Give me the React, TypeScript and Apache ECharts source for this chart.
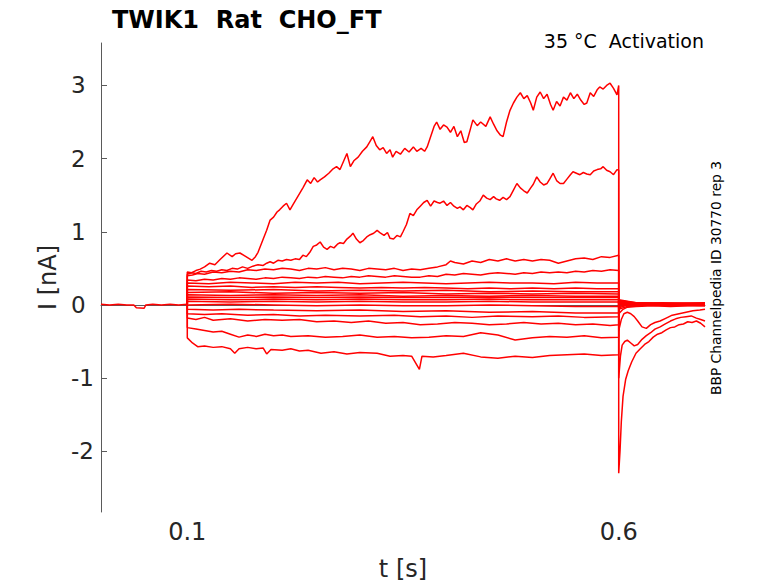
import { useRef, useEffect } from 'react'
import * as echarts from 'echarts'

type Pt = [number, number]

// time in s, current in nA
const xTicks = [0.1, 0.6]
const yTicks = [-2, -1, 0, 1, 2, 3]

const preStep: Pt[] = [
  [0, 0.01], [0.01, 0.0], [0.02, 0.01], [0.03, 0.0], [0.038, 0.0], [0.041, -0.04], [0.05, -0.045],
  [0.052, 0.0], [0.06, 0.01], [0.07, 0.0], [0.08, 0.01], [0.09, 0.0], [0.1, 0.01],
]

const trace1: Pt[] = [
  [0.1, 0.01], [0.1, 0.45], [0.105, 0.44], [0.11, 0.47], [0.115, 0.49], [0.12, 0.52], [0.126, 0.57], [0.132, 0.55],
  [0.138, 0.62], [0.146, 0.71], [0.152, 0.66], [0.156, 0.7], [0.161, 0.71], [0.168, 0.66], [0.175, 0.61], [0.179, 0.66],
  [0.182, 0.72], [0.188, 0.9], [0.192, 1.02], [0.196, 1.16], [0.2, 1.2], [0.204, 1.27], [0.207, 1.3], [0.211, 1.35],
  [0.215, 1.39], [0.219, 1.3], [0.223, 1.38], [0.228, 1.48], [0.234, 1.6], [0.239, 1.71], [0.243, 1.66], [0.247, 1.74],
  [0.251, 1.68], [0.254, 1.71], [0.259, 1.75], [0.264, 1.8], [0.269, 1.86], [0.273, 1.89], [0.277, 1.85], [0.281, 1.96],
  [0.285, 2.07], [0.289, 1.89], [0.293, 1.97], [0.298, 2.02], [0.303, 2.1], [0.308, 2.16], [0.312, 2.24], [0.315, 2.3],
  [0.319, 2.18], [0.323, 2.12], [0.327, 2.15], [0.331, 2.07], [0.335, 2.12], [0.338, 2.02], [0.342, 2.1], [0.347, 2.06],
  [0.352, 2.14], [0.357, 2.09], [0.362, 2.16], [0.366, 2.1], [0.371, 2.14], [0.375, 2.1], [0.378, 2.16], [0.382, 2.3],
  [0.386, 2.44], [0.389, 2.5], [0.393, 2.4], [0.397, 2.46], [0.401, 2.43], [0.405, 2.36], [0.409, 2.44], [0.413, 2.3],
  [0.417, 2.38], [0.421, 2.22], [0.424, 2.23], [0.428, 2.4], [0.431, 2.53], [0.436, 2.45], [0.44, 2.5], [0.446, 2.44],
  [0.451, 2.57], [0.455, 2.47], [0.459, 2.38], [0.463, 2.32], [0.466, 2.3], [0.47, 2.5], [0.474, 2.66], [0.478, 2.76],
  [0.482, 2.84], [0.486, 2.9], [0.49, 2.82], [0.494, 2.86], [0.498, 2.76], [0.501, 2.66], [0.505, 2.84], [0.509, 2.91],
  [0.513, 2.82], [0.517, 2.88], [0.521, 2.74], [0.524, 2.66], [0.528, 2.78], [0.532, 2.72], [0.536, 2.84], [0.54, 2.8],
  [0.544, 2.9], [0.548, 2.82], [0.552, 2.88], [0.556, 2.8], [0.56, 2.74], [0.563, 2.76], [0.567, 2.9], [0.571, 2.85],
  [0.575, 2.94], [0.578, 2.98], [0.582, 2.95], [0.586, 3.0], [0.59, 3.03], [0.594, 2.96], [0.598, 2.87], [0.6, 3.0],
  [0.6, -2.3], [0.6015, -2.0], [0.603, -1.6], [0.605, -1.25], [0.608, -1.02], [0.611, -0.9], [0.615, -0.78], [0.62, -0.66],
  [0.625, -0.6], [0.63, -0.54], [0.635, -0.5], [0.64, -0.44], [0.645, -0.4], [0.65, -0.38], [0.655, -0.34], [0.66, -0.31],
  [0.665, -0.3], [0.67, -0.27], [0.675, -0.26], [0.68, -0.23], [0.685, -0.24], [0.69, -0.22], [0.695, -0.25], [0.7, -0.3],
]

const trace2: Pt[] = [
  [0.1, 0.01], [0.1, 0.42], [0.105, 0.44], [0.11, 0.43], [0.116, 0.46], [0.122, 0.45], [0.128, 0.47], [0.134, 0.46],
  [0.14, 0.48], [0.146, 0.47], [0.152, 0.5], [0.158, 0.49], [0.164, 0.52], [0.17, 0.5], [0.176, 0.53], [0.182, 0.55],
  [0.188, 0.54], [0.192, 0.57], [0.196, 0.59], [0.2, 0.57], [0.205, 0.61], [0.21, 0.6], [0.215, 0.62], [0.22, 0.61],
  [0.225, 0.63], [0.23, 0.62], [0.234, 0.68], [0.238, 0.66], [0.242, 0.72], [0.246, 0.8], [0.25, 0.82], [0.254, 0.86],
  [0.258, 0.79], [0.262, 0.76], [0.266, 0.8], [0.27, 0.78], [0.274, 0.83], [0.277, 0.85], [0.281, 0.84], [0.285, 0.9],
  [0.289, 0.94], [0.292, 0.98], [0.296, 0.9], [0.3, 0.85], [0.304, 0.88], [0.308, 0.93], [0.312, 0.96], [0.316, 0.98],
  [0.32, 1.02], [0.324, 0.98], [0.328, 0.95], [0.332, 0.99], [0.335, 0.91], [0.339, 0.9], [0.343, 0.95], [0.347, 0.93],
  [0.35, 1.0], [0.354, 1.1], [0.358, 1.25], [0.362, 1.22], [0.366, 1.3], [0.37, 1.35], [0.374, 1.4], [0.378, 1.43],
  [0.382, 1.35], [0.386, 1.42], [0.39, 1.4], [0.393, 1.39], [0.397, 1.42], [0.401, 1.36], [0.405, 1.4], [0.409, 1.35],
  [0.413, 1.32], [0.416, 1.34], [0.42, 1.3], [0.424, 1.36], [0.428, 1.33], [0.431, 1.3], [0.435, 1.38], [0.439, 1.42],
  [0.443, 1.5], [0.447, 1.46], [0.451, 1.44], [0.455, 1.48], [0.458, 1.45], [0.462, 1.43], [0.466, 1.47], [0.47, 1.44],
  [0.474, 1.48], [0.478, 1.57], [0.482, 1.66], [0.486, 1.6], [0.49, 1.56], [0.494, 1.53], [0.498, 1.6], [0.501, 1.65],
  [0.505, 1.75], [0.509, 1.68], [0.513, 1.64], [0.517, 1.66], [0.52, 1.72], [0.524, 1.8], [0.528, 1.7], [0.532, 1.66],
  [0.536, 1.66], [0.54, 1.72], [0.544, 1.78], [0.547, 1.82], [0.551, 1.8], [0.555, 1.78], [0.559, 1.81], [0.563, 1.79],
  [0.567, 1.78], [0.571, 1.83], [0.575, 1.85], [0.579, 1.86], [0.582, 1.89], [0.586, 1.84], [0.59, 1.82], [0.594, 1.78],
  [0.598, 1.85], [0.6, 1.84],
  [0.6, -1.0], [0.602, -0.7], [0.604, -0.55], [0.607, -0.5], [0.61, -0.48], [0.614, -0.52], [0.618, -0.56], [0.622, -0.54],
  [0.627, -0.47], [0.632, -0.42], [0.637, -0.38], [0.642, -0.33], [0.648, -0.3], [0.654, -0.26], [0.66, -0.22], [0.666, -0.19],
  [0.672, -0.17], [0.678, -0.16], [0.684, -0.15], [0.69, -0.18], [0.695, -0.2], [0.7, -0.22],
]

const trace3: Pt[] = [
  [0.1, 0.01], [0.1, 0.4], [0.106, 0.41], [0.112, 0.43], [0.12, 0.42], [0.13, 0.45], [0.14, 0.44], [0.15, 0.46],
  [0.16, 0.45], [0.17, 0.48], [0.18, 0.47], [0.19, 0.49], [0.2, 0.48], [0.21, 0.5], [0.22, 0.49], [0.23, 0.47],
  [0.24, 0.5], [0.25, 0.49], [0.26, 0.51], [0.27, 0.48], [0.28, 0.5], [0.29, 0.49], [0.3, 0.47], [0.31, 0.5],
  [0.32, 0.49], [0.33, 0.48], [0.34, 0.5], [0.35, 0.47], [0.36, 0.49], [0.37, 0.48], [0.38, 0.5], [0.39, 0.52],
  [0.4, 0.55], [0.405, 0.6], [0.41, 0.58], [0.42, 0.56], [0.43, 0.6], [0.44, 0.58], [0.45, 0.62], [0.46, 0.6],
  [0.47, 0.63], [0.48, 0.6], [0.49, 0.62], [0.5, 0.6], [0.51, 0.62], [0.52, 0.61], [0.53, 0.57], [0.54, 0.6],
  [0.55, 0.63], [0.56, 0.64], [0.57, 0.62], [0.58, 0.66], [0.59, 0.65], [0.6, 0.68],
  [0.6, -0.35], [0.603, -0.2], [0.606, -0.12], [0.61, -0.1], [0.614, -0.12], [0.618, -0.16], [0.622, -0.22], [0.627, -0.3],
  [0.632, -0.32], [0.637, -0.27], [0.642, -0.24], [0.648, -0.22], [0.655, -0.18], [0.662, -0.14], [0.67, -0.12],
  [0.678, -0.1], [0.686, -0.08], [0.694, -0.07], [0.7, -0.06],
]

const trace4: Pt[] = [
  [0.1, 0.01], [0.1, 0.34], [0.11, 0.33], [0.12, 0.35], [0.13, 0.34], [0.14, 0.36], [0.15, 0.35], [0.16, 0.37],
  [0.17, 0.36], [0.18, 0.35], [0.19, 0.37], [0.2, 0.36], [0.21, 0.38], [0.22, 0.37], [0.23, 0.36], [0.24, 0.38],
  [0.25, 0.37], [0.26, 0.39], [0.27, 0.38], [0.28, 0.37], [0.29, 0.39], [0.3, 0.38], [0.31, 0.4], [0.32, 0.39],
  [0.33, 0.38], [0.34, 0.4], [0.35, 0.39], [0.36, 0.38], [0.37, 0.38], [0.38, 0.4], [0.39, 0.39], [0.4, 0.42],
  [0.41, 0.41], [0.42, 0.43], [0.43, 0.42], [0.44, 0.41], [0.45, 0.43], [0.46, 0.44], [0.47, 0.43], [0.48, 0.42],
  [0.49, 0.44], [0.5, 0.43], [0.51, 0.45], [0.52, 0.44], [0.53, 0.45], [0.54, 0.44], [0.55, 0.46], [0.56, 0.45],
  [0.57, 0.47], [0.58, 0.46], [0.59, 0.48], [0.6, 0.47],
  [0.6, -0.12], [0.605, -0.06], [0.61, -0.03], [0.62, -0.02], [0.64, -0.01], [0.66, -0.02], [0.68, -0.01], [0.7, -0.01],
]

const trace5: Pt[] = [
  [0.1, 0.01], [0.1, 0.3], [0.125, 0.29], [0.15, 0.31], [0.175, 0.3], [0.2, 0.29], [0.225, 0.31], [0.25, 0.3],
  [0.275, 0.31], [0.3, 0.29], [0.325, 0.3], [0.35, 0.31], [0.375, 0.3], [0.4, 0.29], [0.425, 0.3], [0.45, 0.31],
  [0.475, 0.3], [0.5, 0.3], [0.525, 0.29], [0.55, 0.31], [0.575, 0.3], [0.6, 0.3],
  [0.6, -0.06], [0.61, -0.02], [0.63, 0.0], [0.66, -0.01], [0.7, 0.0],
]

const trace6: Pt[] = [
  [0.1, 0.01], [0.1, 0.26], [0.125, 0.25], [0.15, 0.26], [0.175, 0.24], [0.2, 0.25], [0.225, 0.24], [0.25, 0.25],
  [0.275, 0.24], [0.3, 0.23], [0.325, 0.24], [0.35, 0.23], [0.375, 0.24], [0.4, 0.23], [0.425, 0.22], [0.45, 0.23],
  [0.475, 0.22], [0.5, 0.23], [0.525, 0.22], [0.55, 0.23], [0.575, 0.22], [0.6, 0.22],
  [0.6, -0.04], [0.61, 0.0], [0.64, 0.01], [0.67, 0.0], [0.7, 0.01],
]

const trace7: Pt[] = [
  [0.1, 0.01], [0.1, 0.21], [0.15, 0.2], [0.2, 0.21], [0.25, 0.19], [0.3, 0.2], [0.35, 0.19], [0.4, 0.2],
  [0.45, 0.18], [0.5, 0.19], [0.55, 0.18], [0.6, 0.18],
  [0.6, -0.02], [0.62, 0.02], [0.65, 0.01], [0.7, 0.02],
]

const trace8: Pt[] = [
  [0.1, 0.01], [0.1, 0.17], [0.15, 0.18], [0.2, 0.16], [0.25, 0.17], [0.3, 0.16], [0.35, 0.17], [0.4, 0.15],
  [0.45, 0.16], [0.5, 0.15], [0.55, 0.16], [0.6, 0.15],
  [0.6, 0.0], [0.62, 0.03], [0.65, 0.02], [0.7, 0.03],
]

const trace9: Pt[] = [
  [0.1, 0.01], [0.1, 0.14], [0.15, 0.13], [0.2, 0.14], [0.25, 0.13], [0.3, 0.14], [0.35, 0.12], [0.4, 0.13],
  [0.45, 0.12], [0.5, 0.13], [0.55, 0.12], [0.6, 0.12],
  [0.6, 0.01], [0.62, 0.02], [0.65, 0.03], [0.7, 0.02],
]

const trace10: Pt[] = [
  [0.1, 0.01], [0.1, 0.11], [0.15, 0.1], [0.2, 0.11], [0.25, 0.1], [0.3, 0.11], [0.35, 0.1], [0.4, 0.1],
  [0.45, 0.11], [0.5, 0.1], [0.55, 0.1], [0.6, 0.1],
  [0.6, 0.02], [0.62, 0.01], [0.65, 0.02], [0.7, 0.01],
]

const trace11: Pt[] = [
  [0.1, 0.01], [0.1, 0.08], [0.15, 0.07], [0.2, 0.08], [0.25, 0.07], [0.3, 0.08], [0.35, 0.07], [0.4, 0.07],
  [0.45, 0.08], [0.5, 0.07], [0.55, 0.07], [0.6, 0.07],
  [0.6, 0.03], [0.62, 0.02], [0.65, 0.01], [0.7, 0.02],
]

const trace12: Pt[] = [
  [0.1, 0.01], [0.1, 0.05], [0.15, 0.04], [0.2, 0.05], [0.25, 0.04], [0.3, 0.05], [0.35, 0.04], [0.4, 0.04],
  [0.45, 0.05], [0.5, 0.04], [0.55, 0.04], [0.6, 0.04],
  [0.6, 0.02], [0.62, 0.0], [0.65, 0.01], [0.7, 0.0],
]

const trace13: Pt[] = [
  [0.1, 0.01], [0.1, 0.0], [0.15, 0.01], [0.2, 0.0], [0.25, -0.01], [0.3, 0.0], [0.35, -0.01], [0.4, -0.01],
  [0.45, 0.0], [0.5, -0.01], [0.55, -0.02], [0.6, -0.02],
  [0.6, 0.03], [0.62, 0.01], [0.65, 0.0], [0.7, 0.01],
]

const trace14: Pt[] = [
  [0.1, 0.01], [0.1, -0.06], [0.13, -0.07], [0.16, -0.06], [0.2, -0.07], [0.25, -0.08], [0.3, -0.07], [0.35, -0.09],
  [0.4, -0.08], [0.45, -0.1], [0.5, -0.09], [0.55, -0.11], [0.6, -0.11],
  [0.6, 0.04], [0.62, 0.01], [0.65, 0.0], [0.7, -0.01],
]

const trace15: Pt[] = [
  [0.1, 0.01], [0.1, -0.12], [0.12, -0.13], [0.14, -0.12], [0.17, -0.14], [0.2, -0.13], [0.23, -0.15], [0.26, -0.14],
  [0.3, -0.15], [0.34, -0.14], [0.37, -0.16], [0.4, -0.15], [0.43, -0.17], [0.46, -0.15], [0.5, -0.16], [0.53, -0.15],
  [0.56, -0.17], [0.6, -0.16],
  [0.6, 0.05], [0.62, 0.02], [0.65, 0.0], [0.7, 0.0],
]

const trace16: Pt[] = [
  [0.1, 0.01], [0.1, -0.18], [0.11, -0.2], [0.12, -0.17], [0.13, -0.21], [0.15, -0.19], [0.17, -0.22], [0.19, -0.2],
  [0.21, -0.21], [0.23, -0.2], [0.25, -0.23], [0.27, -0.22], [0.29, -0.24], [0.31, -0.22], [0.33, -0.25], [0.35, -0.24],
  [0.37, -0.27], [0.39, -0.26], [0.41, -0.24], [0.43, -0.25], [0.45, -0.27], [0.47, -0.26], [0.49, -0.24], [0.51, -0.26],
  [0.53, -0.25], [0.55, -0.27], [0.57, -0.26], [0.59, -0.28], [0.6, -0.27],
  [0.6, 0.06], [0.62, 0.02], [0.65, 0.01], [0.7, 0.0],
]

const trace17: Pt[] = [
  [0.1, 0.01], [0.1, -0.31], [0.11, -0.33], [0.12, -0.35], [0.13, -0.37], [0.14, -0.36], [0.15, -0.4], [0.16, -0.44],
  [0.17, -0.41], [0.18, -0.43], [0.19, -0.4], [0.2, -0.42], [0.21, -0.41], [0.22, -0.43], [0.24, -0.42], [0.26, -0.44],
  [0.28, -0.43], [0.3, -0.41], [0.32, -0.44], [0.34, -0.43], [0.36, -0.45], [0.38, -0.44], [0.4, -0.42], [0.42, -0.43],
  [0.44, -0.38], [0.46, -0.41], [0.48, -0.48], [0.5, -0.45], [0.52, -0.43], [0.54, -0.44], [0.56, -0.42], [0.58, -0.45],
  [0.6, -0.44],
  [0.6, 0.06], [0.62, 0.03], [0.65, 0.02], [0.7, 0.01],
]

const trace18: Pt[] = [
  [0.1, 0.01], [0.1, -0.45], [0.106, -0.52], [0.112, -0.57], [0.12, -0.56], [0.13, -0.58], [0.14, -0.57], [0.15, -0.6],
  [0.155, -0.66], [0.16, -0.6], [0.17, -0.58], [0.18, -0.6], [0.188, -0.59], [0.192, -0.67], [0.197, -0.61], [0.21, -0.62],
  [0.22, -0.6], [0.23, -0.63], [0.24, -0.62], [0.255, -0.66], [0.27, -0.64], [0.285, -0.67], [0.3, -0.65], [0.32, -0.66],
  [0.335, -0.7], [0.35, -0.69], [0.36, -0.7], [0.369, -0.88], [0.372, -0.7], [0.385, -0.71], [0.4, -0.69], [0.42, -0.66],
  [0.44, -0.71], [0.46, -0.73], [0.48, -0.7], [0.5, -0.72], [0.52, -0.69], [0.54, -0.68], [0.56, -0.67], [0.58, -0.69],
  [0.6, -0.68],
  [0.6, 0.07], [0.62, 0.03], [0.65, 0.02], [0.7, 0.02],
]

const traces = [
  preStep, trace1, trace2, trace3, trace4, trace5, trace6, trace7, trace8, trace9,
  trace10, trace11, trace12, trace13, trace14, trace15, trace16, trace17, trace18,
]

export default function App() {
  const containerRef = useRef<HTMLDivElement>(null)

  useEffect(() => {
    const el = containerRef.current
    if (!el) return
    const chart = echarts.init(el, null, { renderer: 'svg' })

    const axisColor = '#5a5a5a'
    const textColor = '#262626'

    const option: echarts.EChartsOption = {
      animation: false,
      backgroundColor: '#fff',
      textStyle: { fontFamily: 'DejaVu Sans' },
      title: {
        text: 'TWIK1  Rat  CHO_FT',
        left: 107,
        top: 3,
        textStyle: { fontSize: 24, fontWeight: 'bold', color: '#000', fontFamily: 'DejaVu Sans' },
      },
      grid: { left: 101, right: 73, top: 43, bottom: 71, outerBoundsMode: 'none' } as any,
      xAxis: {
        type: 'value',
        min: 0,
        max: 0.7,
        name: 't [s]',
        nameLocation: 'middle',
        nameGap: 45,
        nameTextStyle: { fontSize: 24, color: textColor },
        axisLine: { show: true, lineStyle: { color: axisColor, width: 1 } },
        axisTick: { show: true, inside: true, length: 6, customValues: xTicks, lineStyle: { color: axisColor, width: 1 } },
        axisLabel: { customValues: xTicks, fontSize: 24, color: textColor, margin: 8 },
        splitLine: { show: false },
      },
      yAxis: {
        type: 'value',
        min: -2.83,
        max: 3.58,
        name: 'I [nA]',
        nameLocation: 'middle',
        nameGap: 31,
        nameTextStyle: { fontSize: 24, color: textColor },
        axisLine: { show: true, lineStyle: { color: axisColor, width: 1 } },
        axisTick: { show: true, inside: true, length: 6, customValues: yTicks, lineStyle: { color: axisColor, width: 1 } },
        axisLabel: { customValues: yTicks, fontSize: 23, color: textColor, margin: 30, align: 'left' },
        splitLine: { show: false },
      },
      graphic: [
        {
          type: 'text',
          x: 704,
          y: 41,
          style: {
            text: '35 °C  Activation',
            fontSize: 19,
            fontFamily: 'DejaVu Sans',
            fill: '#000',
            textAlign: 'right',
            textVerticalAlign: 'middle',
          },
        },
        {
          type: 'text',
          x: 716,
          y: 278,
          rotation: Math.PI / 2,
          style: {
            text: 'BBP Channelpedia ID 30770 rep 3',
            fontSize: 13.8,
            fontFamily: 'DejaVu Sans',
            fill: '#000',
            textAlign: 'center',
            textVerticalAlign: 'middle',
          },
        },
      ],
      series: traces.map((data, i) => ({
        type: 'line',
        name: 'trace' + i,
        data,
        symbol: 'none',
        silent: true,
        lineStyle: { color: '#ff0000', width: 1.5 },
      })),
    }
    chart.setOption(option)

    return () => chart.dispose()
  }, [])

  return (
    <div
      ref={containerRef}
      style={{ position: 'fixed', left: 0, top: 0, width: 778, height: 583 }}
    />
  )
}
